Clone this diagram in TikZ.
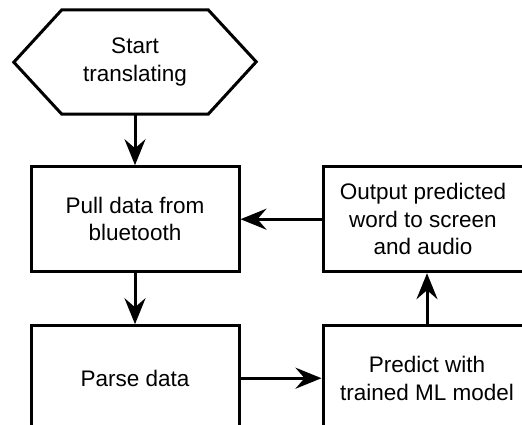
\documentclass[tikz,border=0pt]{standalone}
\usepackage{fontspec}
\setmainfont{Liberation Sans}
\usetikzlibrary{positioning, arrows.meta}

\begin{document}
\begin{tikzpicture}[x=1pt,y=1pt,node distance=51pt and 81pt]
	\tikzstyle{every node}=[font=\fontsize{22.5}{27.5}\selectfont]
	\tikzstyle{block}=[draw,line width=3pt,align=center,minimum width=208pt,minimum height=105pt,inner sep=0pt]
	\tikzstyle{flow}=[draw,line width=3pt,-{Stealth[length=26pt,width=21pt,inset=9pt]}]

	\useasboundingbox (0,0) rectangle (522,-424);

	\node[align=center,minimum width=146pt,minimum height=104pt,inner sep=0pt] (start) at (135,-62) {Start\\translating};
	\draw[line width=3pt] (start.north west) -- (start.north east) -- ++(48,-52) -- (start.south east)
	-- (start.south west) -- ++(-48,52) -- cycle;

	\node[block,below=of start] (pull) {Pull data from\\bluetooth};
	\node[block,below=of pull] (parse) {Parse data};
	\node[block,right=of parse] (predict) {Predict with\\trained ML model};
	\node[block,minimum width=200pt,above=of predict.north west,anchor=south west] (output) {Output predicted\\word to screen\\and audio};

	\draw[flow] (start) -- (pull);
	\draw[flow] (pull) -- (parse);
	\draw[flow] (parse) -- (predict);
	\draw[flow] (predict.north) -- (predict.north |- output.south);
	\draw[flow] (output) -- (pull);
\end{tikzpicture}
\end{document}
